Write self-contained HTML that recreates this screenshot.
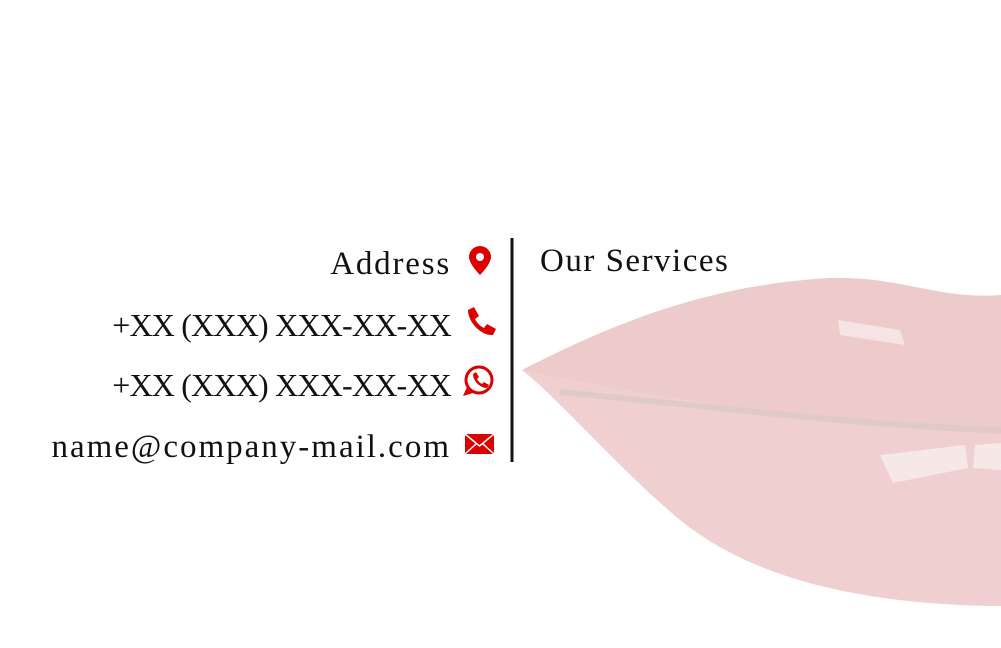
<!DOCTYPE html>
<html><head><style>
body{margin:0;width:1001px;height:648px;background:#fff;position:relative;overflow:hidden;font-family:"Liberation Serif",serif;}
.t{position:absolute;right:550px;font-size:33px;letter-spacing:1.8px;color:#111;white-space:nowrap;line-height:1;}
.p{font-size:32px;letter-spacing:-0.8px;}
.i{position:absolute;}
</style></head><body>
<svg class="i" style="left:0;top:0" width="1001" height="648">
  <path d="M522,370 C650,395 850,425 1001,432 L1001,606 C880,605 760,585 680,520 C620,470 560,400 522,370Z" fill="#efcfcf"/>
  <path d="M522,370 C600,330 700,285 830,278 C900,276 940,300 1001,295 L1001,434 C850,427 650,397 522,370Z" fill="#edcbcb"/>
  <path d="M560,392 C700,405 850,425 1001,430" stroke="#d8c8c8" stroke-width="6" fill="none" opacity="0.7"/>
  <polygon points="838,320 900,330 905,345 840,335" fill="#f6e4e4"/>
  <polygon points="880,455 965,445 968,468 893,483" fill="#f7e8e8"/>
  <polygon points="975,445 1001,443 1001,470 973,468" fill="#f7e8e8"/>
  <rect x="510.5" y="238" width="3" height="224" fill="#111"/>
  <path d="M480,246 a11,11 0 0 1 11,11 c0,7 -11,18 -11,18 c0,0 -11,-11 -11,-18 a11,11 0 0 1 11,-11z" fill="#d00"/>
  <circle cx="480" cy="257" r="4" fill="#fff"/>
  <path d="M468,310 l6,-3 l5,9 l-4,3 c2,4 5,7 9,9 l3,-4 l9,5 l-3,6 c-12,1 -25,-13 -25,-25z" fill="#d00"/>
  <circle cx="479" cy="380" r="13" fill="none" stroke="#d00" stroke-width="3"/>
  <path d="M467,387 l-4,9 l10,-3z" fill="#d00"/>
  <path d="M473,374 l3,-2 l3,5 l-2,2 c1,2 3,4 5,5 l2,-2 l5,3 l-2,3 c-7,0 -14,-7 -14,-14z" fill="#d00"/>
  <rect x="465" y="434" width="29" height="20" fill="#d00"/>
  <path d="M465,434 l14.5,12 l14.5,-12 M465,454 l11,-10 M494,454 l-11,-10" stroke="#fff" stroke-width="1.5" fill="none"/>
</svg>
<div class="t" style="top:248px">Address</div>
<div class="t p" style="top:309px">+XX (XXX) XXX-XX-XX</div>
<div class="t p" style="top:369px">+XX (XXX) XXX-XX-XX</div>
<div class="t" style="top:431px;letter-spacing:2px">name@company-mail.com</div>
<div class="t" style="left:540px;right:auto;top:245px;letter-spacing:1.5px">Our Services</div>
</body></html>
